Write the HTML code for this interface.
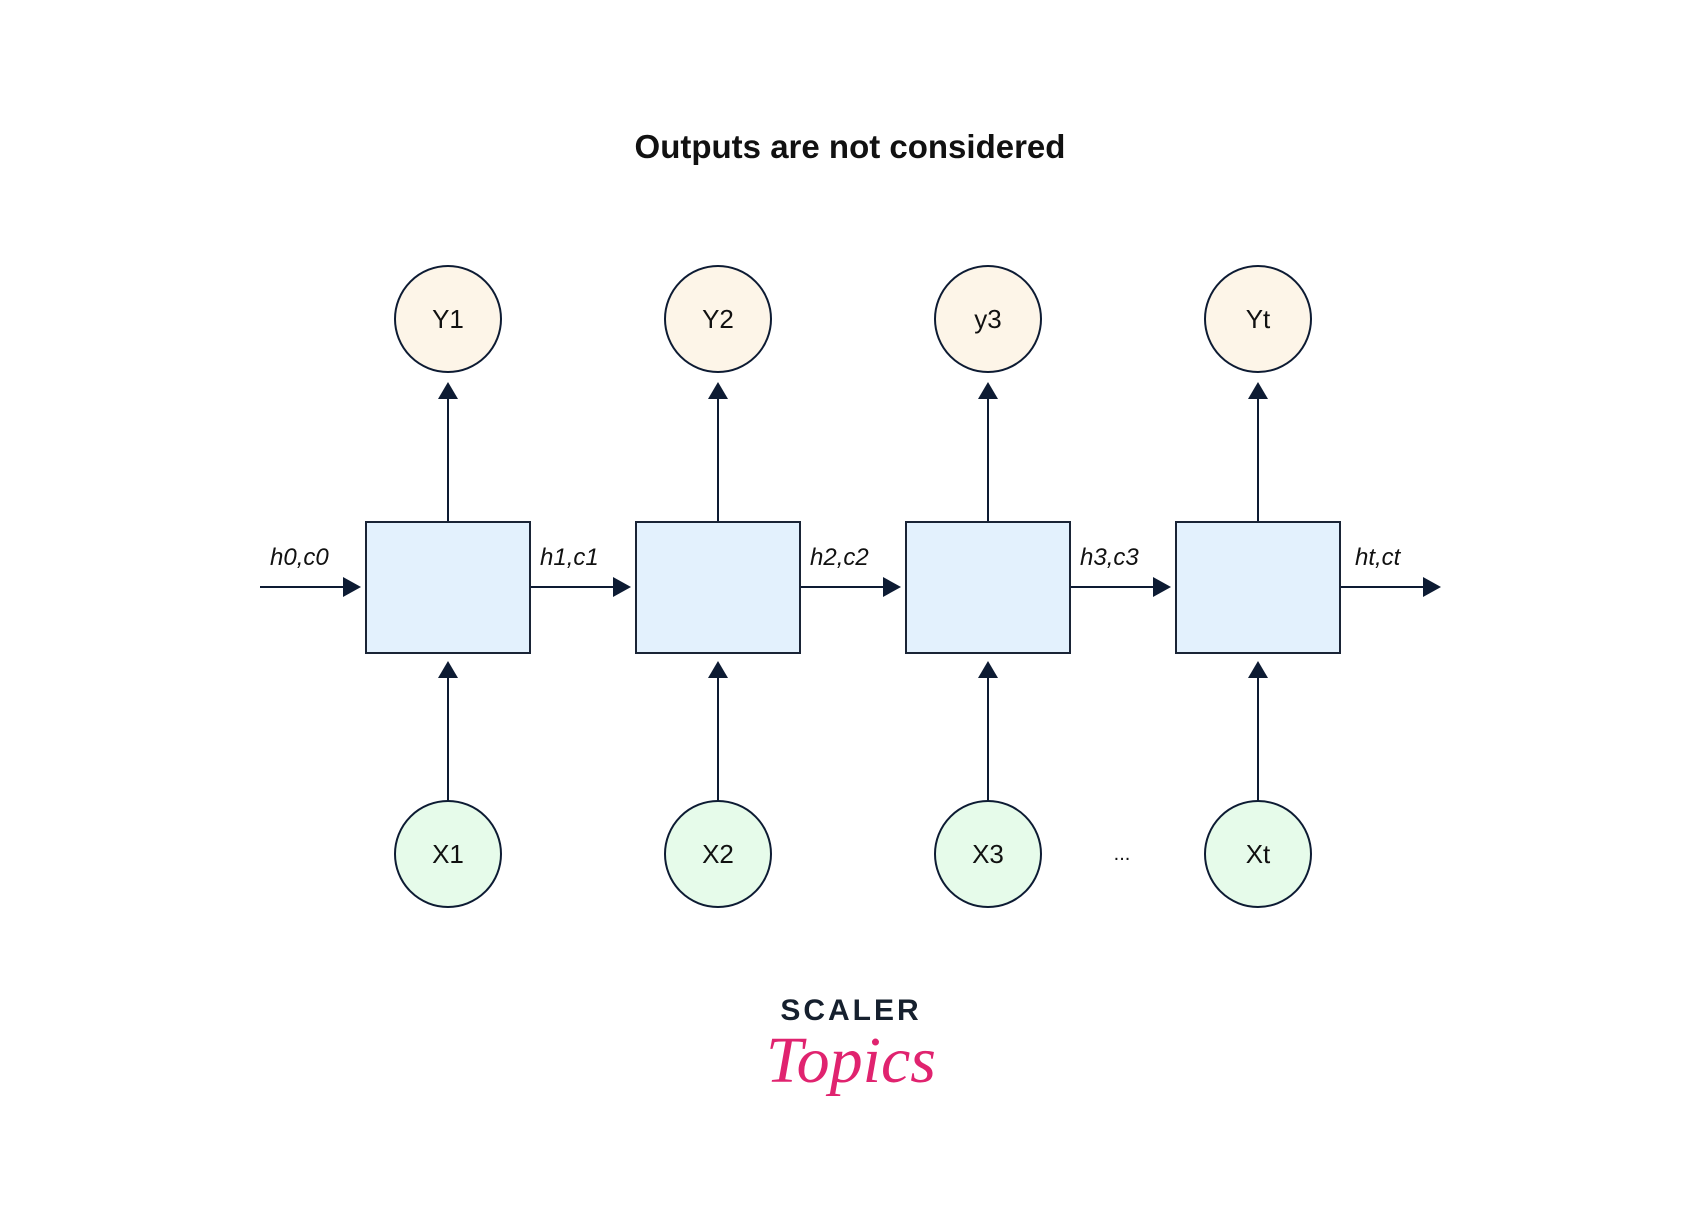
<!DOCTYPE html>
<html><head><meta charset="utf-8"><style>
html,body{margin:0;padding:0;background:#fff;}
svg{display:block}
</style></head><body>
<svg width="1700" height="1214" viewBox="0 0 1700 1214" xmlns="http://www.w3.org/2000/svg">
<text x="850" y="158" text-anchor="middle" font-family="Liberation Sans, sans-serif" font-weight="bold" font-size="33" fill="#111">Outputs are not considered</text>
<g stroke="#0d1b33" stroke-width="2" fill="none">
<line x1="260" y1="587" x2="345" y2="587"/>
<line x1="530" y1="587" x2="615" y2="587"/>
<line x1="800" y1="587" x2="885" y2="587"/>
<line x1="1070" y1="587" x2="1155" y2="587"/>
<line x1="1340" y1="587" x2="1425" y2="587"/>
</g>
<g fill="#0d1b33">
<polygon points="343,577 361,587 343,597"/>
<polygon points="613,577 631,587 613,597"/>
<polygon points="883,577 901,587 883,597"/>
<polygon points="1153,577 1171,587 1153,597"/>
<polygon points="1423,577 1441,587 1423,597"/>
</g>
<g font-family="Liberation Sans, sans-serif" font-style="italic" font-size="24" fill="#111">
<text x="270" y="565">h0,c0</text>
<text x="540" y="565">h1,c1</text>
<text x="810" y="565">h2,c2</text>
<text x="1080" y="565">h3,c3</text>
<text x="1355" y="565">ht,ct</text>
</g>
<g stroke="#0d1b33" stroke-width="2">
<line x1="448" y1="522" x2="448" y2="395"/><line x1="718" y1="522" x2="718" y2="395"/><line x1="988" y1="522" x2="988" y2="395"/><line x1="1258" y1="522" x2="1258" y2="395"/>
<line x1="448" y1="801" x2="448" y2="672"/><line x1="718" y1="801" x2="718" y2="672"/><line x1="988" y1="801" x2="988" y2="672"/><line x1="1258" y1="801" x2="1258" y2="672"/>
</g>
<g fill="#0d1b33">
<polygon points="438,399 448,382 458,399"/><polygon points="708,399 718,382 728,399"/><polygon points="978,399 988,382 998,399"/><polygon points="1248,399 1258,382 1268,399"/>
<polygon points="438,678 448,661 458,678"/><polygon points="708,678 718,661 728,678"/><polygon points="978,678 988,661 998,678"/><polygon points="1248,678 1258,661 1268,678"/>
</g>
<g fill="#e3f1fd" stroke="#1a2436" stroke-width="2">
<rect x="366" y="522" width="164" height="131"/>
<rect x="636" y="522" width="164" height="131"/>
<rect x="906" y="522" width="164" height="131"/>
<rect x="1176" y="522" width="164" height="131"/>
</g>
<g fill="#fdf5e8" stroke="#0d1b33" stroke-width="2">
<circle cx="448" cy="319" r="53"/><circle cx="718" cy="319" r="53"/><circle cx="988" cy="319" r="53"/><circle cx="1258" cy="319" r="53"/>
</g>
<g fill="#e6fbea" stroke="#0d1b33" stroke-width="2">
<circle cx="448" cy="854" r="53"/><circle cx="718" cy="854" r="53"/><circle cx="988" cy="854" r="53"/><circle cx="1258" cy="854" r="53"/>
</g>
<g font-family="Liberation Sans, sans-serif" font-size="26" fill="#111" text-anchor="middle">
<text x="448" y="328">Y1</text><text x="718" y="328">Y2</text><text x="988" y="328">y3</text><text x="1258" y="328">Yt</text>
<text x="448" y="863">X1</text><text x="718" y="863">X2</text><text x="988" y="863">X3</text><text x="1258" y="863">Xt</text>
<text x="1122" y="860" font-size="20">...</text>
</g>
<text x="851" y="1020" text-anchor="middle" font-family="Liberation Sans, sans-serif" font-weight="bold" font-size="30" letter-spacing="3" fill="#16202e">SCALER</text>
<text x="851" y="1082" text-anchor="middle" font-family="Liberation Serif, serif" font-style="italic" font-size="66" fill="#e0236f">Topics</text>
</svg>
</body></html>
